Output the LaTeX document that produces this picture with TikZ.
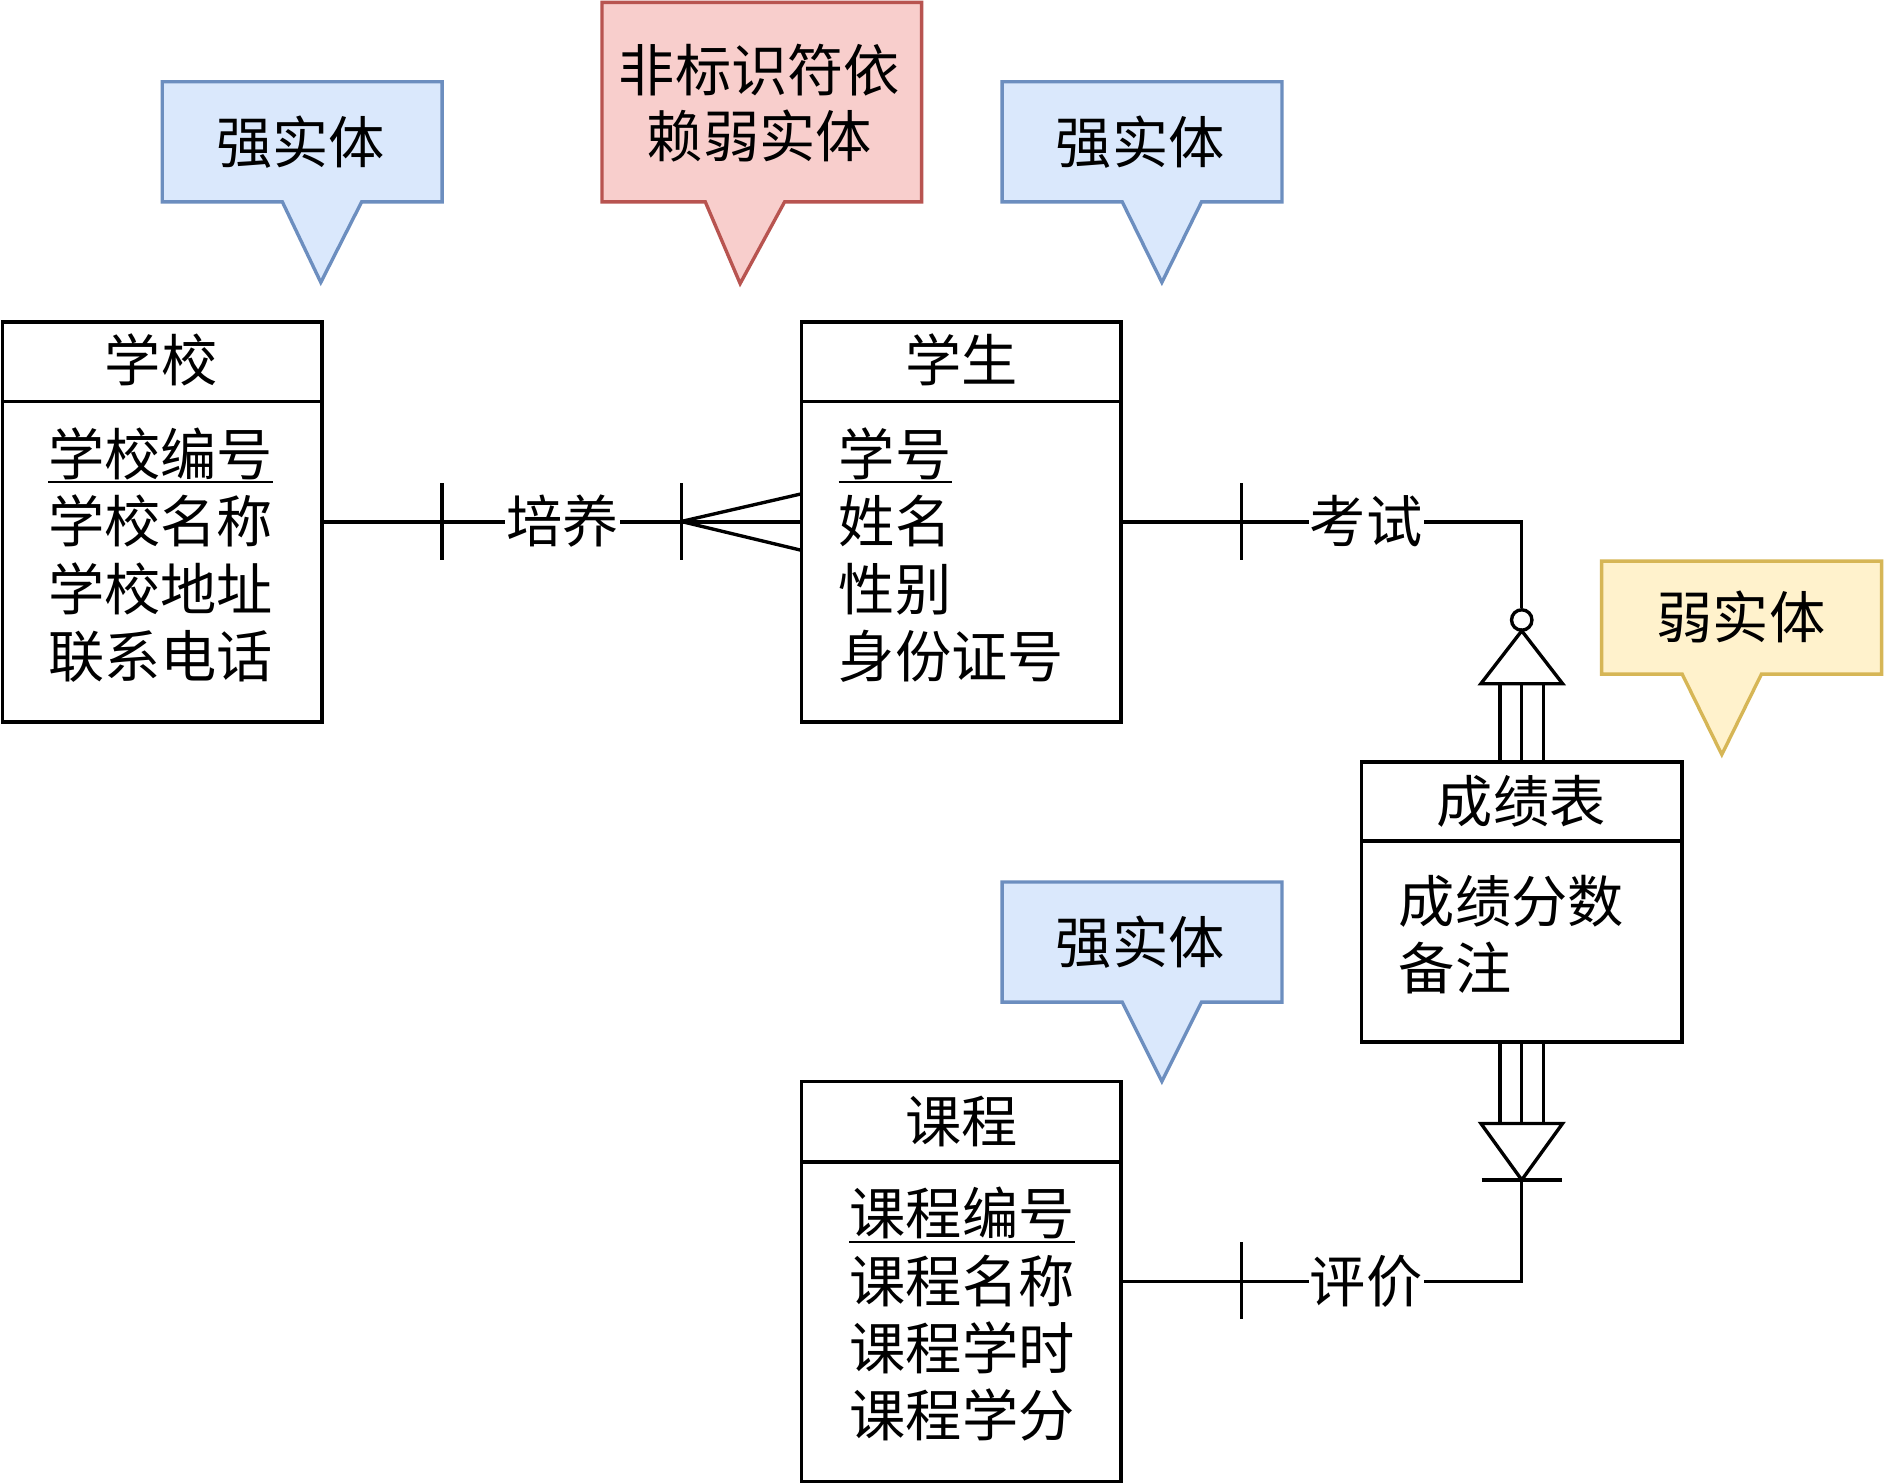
\documentclass[tikz,border=0pt]{standalone}
\usepackage{fontspec}
\newfontfamily\cjk{Noto Sans CJK SC}
\usetikzlibrary{calc}
\definecolor{bluefill}{HTML}{DAE8FC}
\definecolor{bluedraw}{HTML}{6C8EBF}
\definecolor{pinkfill}{HTML}{F8CECC}
\definecolor{pinkdraw}{HTML}{B85450}
\definecolor{yelfill}{HTML}{FFF2CC}
\definecolor{yeldraw}{HTML}{D6B656}
\begin{document}
\begin{tikzpicture}[x=1pt,y=-1pt,
  txt/.style={font=\cjk\fontsize{46.8}{56}\selectfont, inner sep=0pt, text height=41pt, text depth=5.5pt},
  attr/.style={txt, anchor=west},
  ent/.style={draw, line width=3pt, minimum width=266pt, inner sep=0pt},
  conn/.style={line width=2.8pt},
  lbl/.style={txt, fill=white, inner xsep=1pt},
  bluecall/.style={fill=bluefill, draw=bluedraw, line width=2.8pt},
  pinkcall/.style={fill=pinkfill, draw=pinkdraw, line width=2.8pt},
  yelcall/.style={fill=yelfill, draw=yeldraw, line width=2.8pt},
  uline/.style={line width=1.8pt}
]
\useasboundingbox (0,0) rectangle (1568,1235);
\fill[white] (0,0) rectangle (1568,1235);

% ---------- callouts ----------
\draw[bluecall] (135,68) -- (368,68) -- (368,168) -- (301,168) -- (267,235) -- (235,168) -- (135,168) -- cycle;
\node[txt] (c1) at (250,118) {强实体};
\draw[pinkcall] (501,2) -- (767,2) -- (767,168) -- (653,168) -- (616,236) -- (587,168) -- (501,168) -- cycle;
\node[txt] (c2a) at (632,58) {非标识符依};
\node[txt] (c2b) at (632,113) {赖弱实体};
\draw[bluecall] (834,68) -- (1067,68) -- (1067,168) -- (1000,168) -- (967,235) -- (934,168) -- (834,168) -- cycle;
\node[txt] (c3) at (949,118) {强实体};
\draw[yelcall] (1333,467) -- (1566,467) -- (1566,561) -- (1466,561) -- (1433,628) -- (1400,561) -- (1333,561) -- cycle;
\node[txt] (c4) at (1449,514) {弱实体};
\draw[bluecall] (834,734) -- (1067,734) -- (1067,834) -- (1000,834) -- (967,900) -- (934,834) -- (834,834) -- cycle;
\node[txt] (c5) at (949,784) {强实体};

% ---------- entities ----------
\node[ent, minimum height=333pt] (school) at (135,434.5) {};
\draw[line width=3pt] (2,334) -- (268,334);
\node[txt] (schoolT) at (134,300) {学校};
\node[attr] (s1) at (40,378) {学校编号};
\draw[uline] (s1.south west) -- (s1.south east);
\node[attr] (s2) at (40,434) {学校名称};
\node[attr] (s3) at (40,490) {学校地址};
\node[attr] (s4) at (40,546) {联系电话};

\node[ent, minimum height=333pt] (student) at (800,434.5) {};
\draw[line width=3pt] (667,334) -- (933,334);
\node[txt] (studentT) at (800,300) {学生};
\node[attr] (t1) at (698,378) {学号};
\draw[uline] (t1.south west) -- (t1.south east);
\node[attr] (t2) at (698,434) {姓名};
\node[attr] (t3) at (698,490) {性别};
\node[attr] (t4) at (698,546) {身份证号};

\node[ent, minimum width=267pt, minimum height=233pt] (score) at (1266.5,750.5) {};
\draw[line width=3pt] (1133,700) -- (1400,700);
\node[txt] (scoreT) at (1266,667) {成绩表};
\node[attr] (g1) at (1164,750) {成绩分数};
\node[attr] (g2) at (1164,806) {备注};

\node[ent, minimum height=333pt] (course) at (800,1066.5) {};
\draw[line width=3pt] (667,967) -- (933,967);
\node[txt] (courseT) at (800,933) {课程};
\node[attr] (k1) at (707,1010) {课程编号};
\draw[uline] (k1.south west) -- (k1.south east);
\node[attr] (k2) at (707,1066) {课程名称};
\node[attr] (k3) at (707,1122) {课程学时};
\node[attr] (k4) at (707,1178) {课程学分};

% ---------- 培养 ----------
\draw[conn] (school.east) -- (student.west);
\draw[conn] (368,402) -- (368,466);
\draw[conn] (567,402) -- (567,466);
\coordinate (cf) at (567,434);
\draw[conn] (cf) -- (667,411);
\draw[conn] (cf) -- (667,458);
\node[lbl] (l1) at (468,434) {培养};

% ---------- 考试 ----------
\node[circle, draw, line width=2.8pt, minimum size=17pt, inner sep=0pt, fill=white] (circ) at (1266.5,516) {};
\draw[conn] (student.east) -| (circ.north);
\draw[conn] (1033,402) -- (1033,466);
\draw[conn, fill=white, line join=miter] (1266.5,525) -- (1300.5,569) -- (1232.5,569) -- cycle;
\draw[conn] (1248.5,569) -- (1248.5,634);
\draw[conn] (1266.5,569) -- (score.north);
\draw[conn] (1284.5,569) -- (1284.5,634);
\node[lbl] (l2) at (1137,434) {考试};

% ---------- 评价 ----------
\coordinate (apex) at (1266.5,982);
\draw[conn] (1248.5,867) -- (1248.5,935);
\draw[conn] (score.south) -- (1266.5,935);
\draw[conn] (1284.5,867) -- (1284.5,935);
\draw[conn, fill=white, line join=miter] (1232.5,935) -- (1300.5,935) -- (apex) -- cycle;
\draw[conn] (1233,982) -- (1300,982);
\draw[conn] (apex) |- (course.east);
\draw[conn] (1033,1034) -- (1033,1098);
\node[lbl] (l3) at (1137,1066) {评价};
\end{tikzpicture}
\end{document}
